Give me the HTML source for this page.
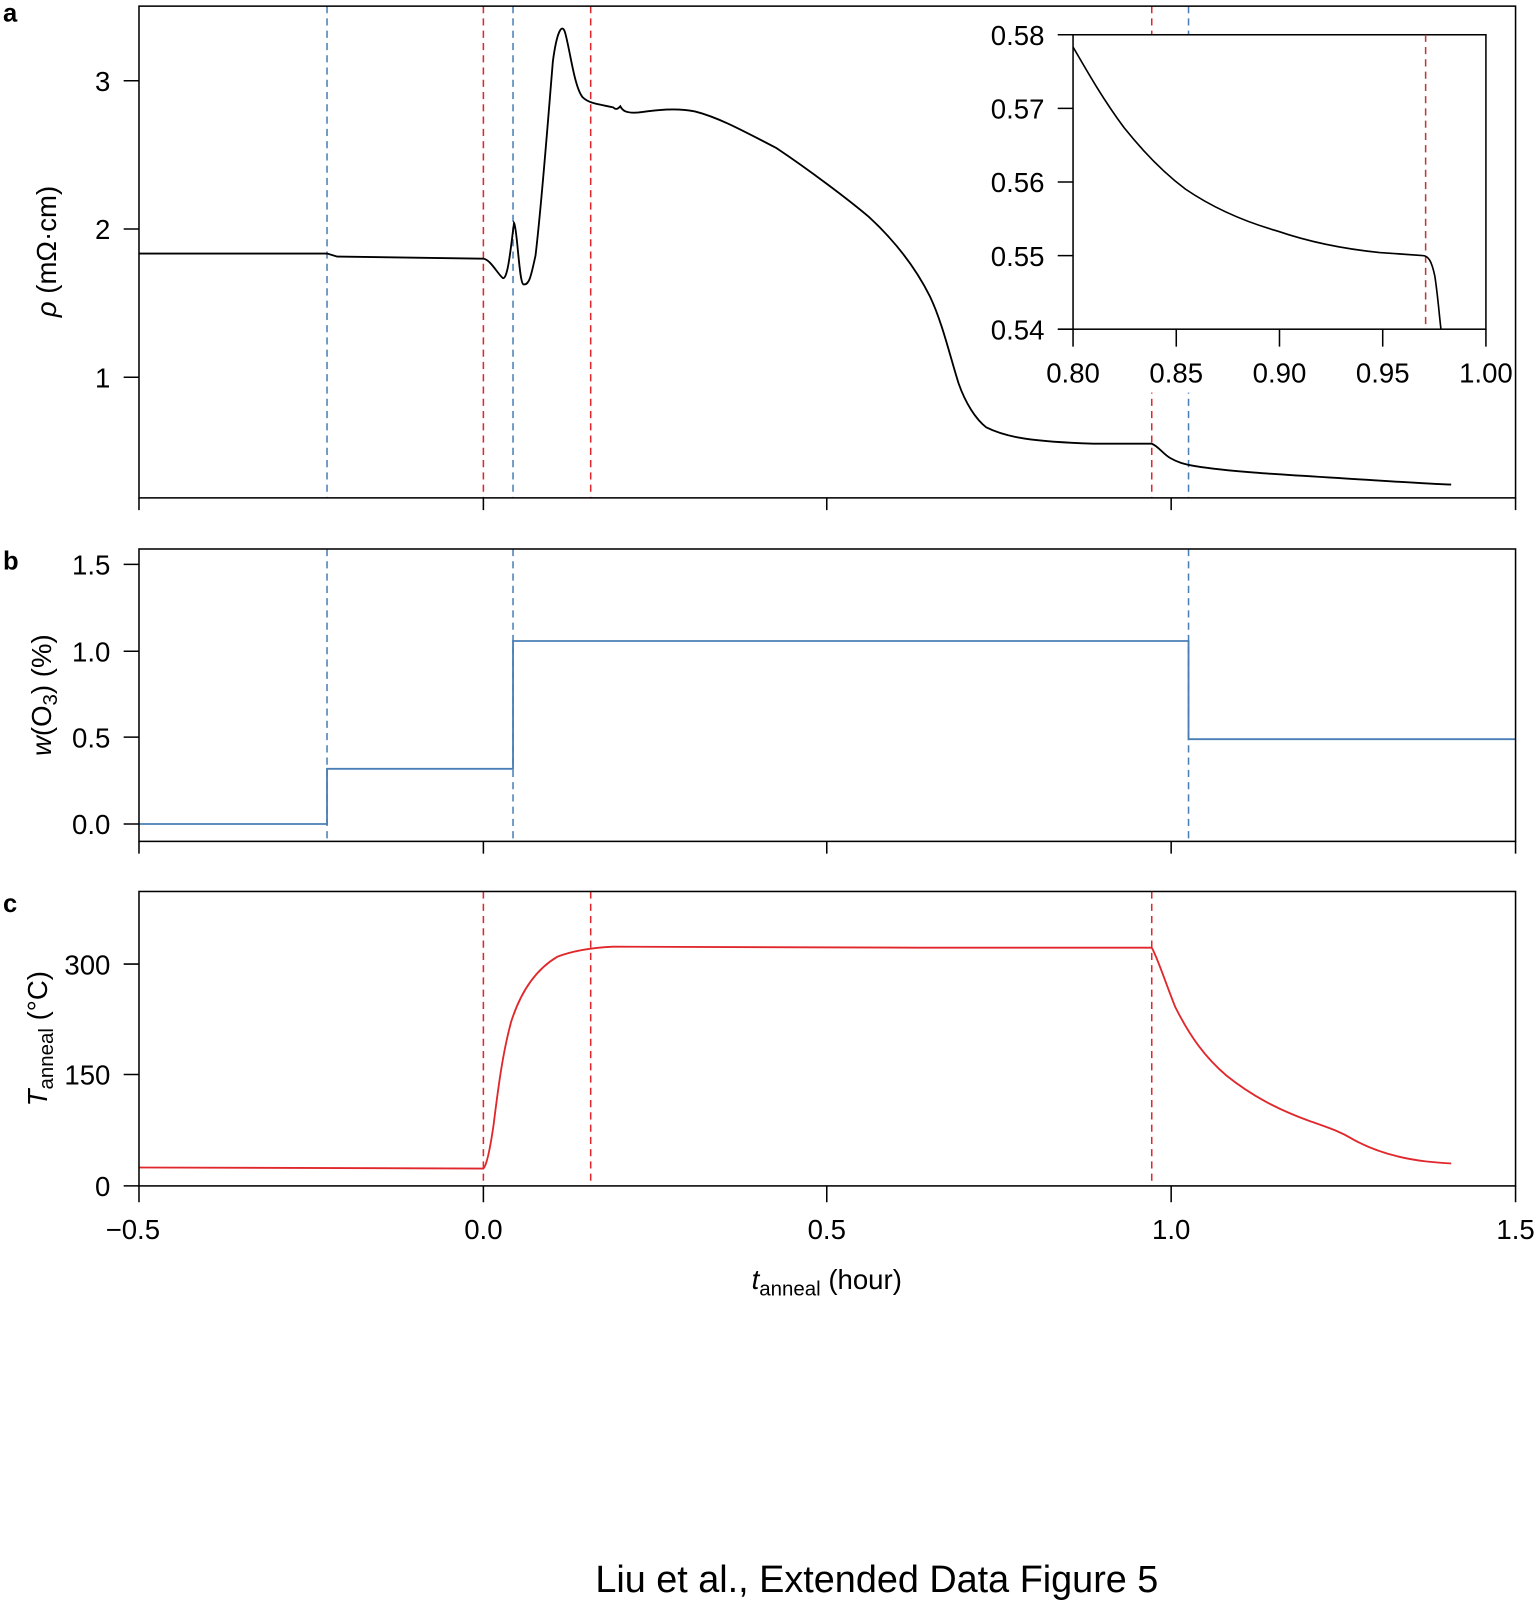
<!DOCTYPE html>
<html><head><meta charset="utf-8"><style>html,body{margin:0;padding:0;background:#fff}svg{display:block}text{font-family:"Liberation Sans",Arial,sans-serif;fill:#000}</style></head>
<body>
<svg width="1536" height="1602" viewBox="0 0 1503 1567" preserveAspectRatio="none" xmlns="http://www.w3.org/2000/svg">
<g fill="none" stroke-width="1.5">
<g stroke-dasharray="7,5">
<line x1="320" y1="6" x2="320" y2="487" stroke="#4a7fb5"/>
<line x1="502" y1="6" x2="502" y2="487" stroke="#4a7fb5"/>
<line x1="1163" y1="6" x2="1163" y2="487" stroke="#4a7fb5"/>
<line x1="473" y1="6" x2="473" y2="487" stroke="#e0282c"/>
<line x1="578" y1="6" x2="578" y2="487" stroke="#e0282c"/>
<line x1="1127" y1="6" x2="1127" y2="487" stroke="#e0282c"/>
<line x1="320" y1="537" x2="320" y2="823" stroke="#4a7fb5"/>
<line x1="502" y1="537" x2="502" y2="823" stroke="#4a7fb5"/>
<line x1="1163" y1="537" x2="1163" y2="823" stroke="#4a7fb5"/>
<line x1="473" y1="872" x2="473" y2="1160" stroke="#e0282c"/>
<line x1="578" y1="872" x2="578" y2="1160" stroke="#e0282c"/>
<line x1="1127" y1="872" x2="1127" y2="1160" stroke="#e0282c"/>
</g>
<path stroke="#000" stroke-width="1.8" d="M136,248 L320,248 L330,251 L473,253 C480,254 487,268 492,272 C497,274 500,240 503,218 C506,222 508,276 512,278 C518,280 520,268 524,250 C530,200 536,120 541,60 C545,30 550,22 553,32 C558,50 562,85 570,95 C575,100 580,101 600,105 C603,108 605,106 607,104 C609,108 612,111 625,110 C640,108 660,105 680,109 C700,114 720,124 760,145 C790,165 830,195 850,212 C875,235 895,260 910,290 C922,315 930,350 938,375 C945,395 955,410 965,418 C985,428 1010,432 1070,434 L1127,434 C1133,436 1138,444 1145,448 C1152,452 1158,454 1170,456 C1200,461 1250,464 1300,467 C1350,470 1390,473 1420,474"/>
<path stroke="#4a7fb5" stroke-width="1.8" d="M136,806 L320,806 L320,752 L502,752 L502,627 L1163,627 L1163,723 L1483,723"/>
<path stroke="#e0282c" stroke-width="1.8" d="M136,1142 L473,1143 C476,1140 479,1128 483,1100 C488,1060 492,1030 500,1000 C510,968 525,948 545,936 C560,930 580,927 600,926 L900,927 L1127,927 C1132,935 1140,960 1150,985 C1165,1015 1180,1035 1200,1052 C1225,1072 1250,1085 1280,1096 C1300,1103 1310,1106 1325,1115 C1345,1126 1370,1133 1395,1136 C1405,1137 1415,1138 1420,1138"/>
<!-- inset -->
<rect x="960" y="34" width="515" height="350" fill="#fff" stroke="none"/>
<rect x="1050" y="34" width="404" height="288" fill="#fff" stroke="#000"/>
<line x1="1395" y1="34" x2="1395" y2="322" stroke="#c0363a" stroke-dasharray="7,5"/>
<path stroke="#000" stroke-width="1.6" d="M1050,46 C1065,72 1080,98 1100,125 C1120,150 1140,170 1160,185 C1185,202 1215,216 1250,226 C1285,238 1320,244 1350,247 L1392,250 C1398,250 1401,256 1404,270 C1407,290 1408,305 1410,322"/>
<rect x="136" y="6" width="1347" height="481" stroke="#000"/>
<rect x="136" y="537" width="1347" height="286" stroke="#000"/>
<rect x="136" y="872" width="1347" height="288" stroke="#000"/>
<g stroke="#000">
<path d="M136,487v12M473,487v12M809,487v12M1146,487v12M1483,487v12"/>
<path d="M136,823v12M473,823v12M809,823v12M1146,823v12M1483,823v12"/>
<path d="M136,1160v16M473,1160v16M809,1160v16M1146,1160v16M1483,1160v16"/>
<path d="M121,79h15M121,224h15M121,369h15"/>
<path d="M121,552h15M121,637h15M121,721h15M121,806h15"/>
<path d="M121,943h15M121,1051h15M121,1160h15"/>
<path d="M1035,34h15M1035,106h15M1035,178h15M1035,250h15M1035,322h15"/>
<path d="M1050,322v17M1151,322v17M1252,322v17M1353,322v17M1454,322v17"/>
</g>
</g>
<g font-size="27">
<g text-anchor="end">
<text x="108" y="89">3</text><text x="108" y="234">2</text><text x="108" y="379">1</text>
<text x="108" y="562">1.5</text><text x="108" y="647">1.0</text><text x="108" y="731">0.5</text><text x="108" y="816">0.0</text>
<text x="108" y="953">300</text><text x="108" y="1061">150</text><text x="108" y="1170">0</text>
<text x="1022" y="44">0.58</text><text x="1022" y="116">0.57</text><text x="1022" y="188">0.56</text><text x="1022" y="260">0.55</text><text x="1022" y="332">0.54</text>
</g>
<g text-anchor="middle">
<text x="1050" y="374">0.80</text><text x="1151" y="374">0.85</text><text x="1252" y="374">0.90</text><text x="1353" y="374">0.95</text><text x="1454" y="374">1.00</text>
<text x="130" y="1212">−0.5</text><text x="473" y="1212">0.0</text><text x="809" y="1212">0.5</text><text x="1146" y="1212">1.0</text><text x="1483" y="1212">1.5</text>
<text x="809" y="1261"><tspan font-style="italic">t</tspan><tspan font-size="20" dy="6">anneal</tspan><tspan dy="-6"> (hour)</tspan></text>
</g>
<text transform="translate(55,246) rotate(-90)" text-anchor="middle"><tspan font-style="italic">ρ</tspan> (mΩ·cm)</text>
<text transform="translate(50,680) rotate(-90)" text-anchor="middle"><tspan font-style="italic">w</tspan>(O<tspan font-size="20" dy="6">3</tspan><tspan dy="-6">) (%)</tspan></text>
<text transform="translate(46,1016) rotate(-90)" text-anchor="middle"><tspan font-style="italic">T</tspan><tspan font-size="20" dy="6">anneal</tspan><tspan dy="-6"> (°C)</tspan></text>
</g>
<g font-size="25" font-weight="bold">
<text x="3" y="21">a</text><text x="3" y="557">b</text><text x="3" y="892">c</text>
</g>
<text x="858" y="1557" font-size="37" text-anchor="middle">Liu et al., Extended Data Figure 5</text>
</svg>
</body></html>
